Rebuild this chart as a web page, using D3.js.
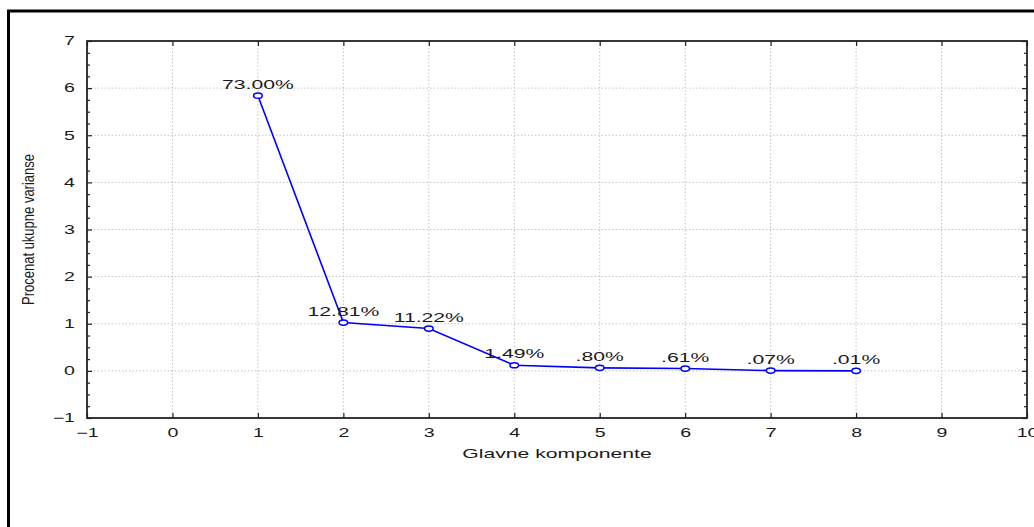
<!DOCTYPE html>
<html>
<head>
<meta charset="utf-8">
<script src="https://cdn.jsdelivr.net/npm/d3@7"></script>
<style>
  html, body { margin: 0; padding: 0; background: #fff; }
  svg { display: block; }
  text { font-family: "Liberation Sans", Arial, sans-serif; fill: #1a1a1a; }
</style>
</head>
<body>
<svg id="chart" width="1034" height="527"></svg>
<script>
// Principal components and their share of total variance (%)
const components = [1, 2, 3, 4, 5, 6, 7, 8];
const varianceShare = [73.00, 12.81, 11.22, 1.49, 0.80, 0.61, 0.07, 0.01];
const variableCount = 8; // eigenvalues of standardized variables sum to this

// Axis ticks
const xTicks = [-1, 0, 1, 2, 3, 4, 5, 6, 7, 8, 9, 10];
const yTicks = [-1, 0, 1, 2, 3, 4, 5, 6, 7];
const yMinorTicks = [-0.75, -0.5, -0.25, 0.25, 0.5, 0.75, 1.25, 1.5, 1.75, 2.25, 2.5, 2.75,
                     3.25, 3.5, 3.75, 4.25, 4.5, 4.75, 5.25, 5.5, 5.75, 6.25, 6.5, 6.75];
const xGrid = [0, 1, 2, 3, 4, 5, 6, 7, 8, 9];
const yGrid = [0, 1, 2, 3, 4, 5, 6];

const xTitle = "Glavne komponente";
const yTitle = "Procenat ukupne varianse";

const points = components.map((c, i) => ({
  comp: c,
  share: varianceShare[i],
  eigen: varianceShare[i] / 100 * variableCount
}));

const fmtShare = v => d3.format(".2f")(v).replace(/^0\./, ".") + "%";

const W = 1034, H = 527;
const plot = { left: 87, right: 1027, top: 41, bottom: 418 };
const SX = 1.63; // horizontal glyph stretch used throughout the graph

const svg = d3.select("#chart");

const x = d3.scaleLinear().domain([-1, 10]).range([plot.left, plot.right]);
const y = d3.scaleLinear().domain([-1, 7]).range([plot.bottom, plot.top]);

// outer window frame
svg.append("path")
  .attr("d", `M8.5,${H} L8.5,11 L${W},11`)
  .attr("fill", "none").attr("stroke", "#000").attr("stroke-width", 3);

// grid
const grid = svg.append("g").attr("stroke", "#c4c4c4").attr("stroke-width", 1)
  .attr("stroke-dasharray", "1.5,2");
grid.selectAll("line.v").data(xGrid).join("line").attr("class", "v")
  .attr("x1", d => x(d)).attr("x2", d => x(d))
  .attr("y1", plot.top).attr("y2", plot.bottom);
grid.selectAll("line.h").data(yGrid).join("line").attr("class", "h")
  .attr("x1", plot.left).attr("x2", plot.right)
  .attr("y1", d => y(d)).attr("y2", d => y(d));

function styleAxis(g, stretchAnchor) {
  g.select(".domain").remove();
  g.selectAll(".tick line").attr("stroke", "#222").attr("stroke-width", 1.2);
  g.selectAll(".tick text")
    .attr("fill", "#1a1a1a")
    .style("font-size", "12px")
    .each(function () {
      const t = d3.select(this);
      const tx = +t.attr("x") || 0;
      const ty = +t.attr("y") || 0;
      t.attr("x", 0).attr("y", 0)
        .attr("transform", `translate(${tx},${ty}) scale(${SX},1)`);
    });
}

// left axis (major + minor, ticks inward)
svg.append("g").attr("transform", `translate(${plot.left},0)`)
  .call(d3.axisLeft(y).tickValues(yTicks).tickSizeInner(-5).tickSizeOuter(0).tickPadding(12))
  .call(styleAxis);
svg.append("g").attr("transform", `translate(${plot.left},0)`)
  .call(d3.axisLeft(y).tickValues(yMinorTicks).tickSizeInner(-3).tickSizeOuter(0).tickFormat(""))
  .call(styleAxis);

// right axis
svg.append("g").attr("transform", `translate(${plot.right},0)`)
  .call(d3.axisRight(y).tickValues(yTicks).tickSizeInner(-5).tickSizeOuter(0).tickFormat(""))
  .call(styleAxis);
svg.append("g").attr("transform", `translate(${plot.right},0)`)
  .call(d3.axisRight(y).tickValues(yMinorTicks).tickSizeInner(-3).tickSizeOuter(0).tickFormat(""))
  .call(styleAxis);

// bottom axis
svg.append("g").attr("transform", `translate(0,${plot.bottom})`)
  .call(d3.axisBottom(x).tickValues(xTicks).tickSizeInner(-5).tickSizeOuter(0).tickPadding(10))
  .call(styleAxis);

// top axis
svg.append("g").attr("transform", `translate(0,${plot.top})`)
  .call(d3.axisTop(x).tickValues(xTicks).tickSizeInner(-5).tickSizeOuter(0).tickFormat(""))
  .call(styleAxis);

// plot frame
svg.append("rect")
  .attr("x", plot.left).attr("y", plot.top)
  .attr("width", plot.right - plot.left).attr("height", plot.bottom - plot.top)
  .attr("fill", "none").attr("stroke", "#222").attr("stroke-width", 1.8);

// axis titles
svg.append("text")
  .attr("transform", `translate(${(plot.left + plot.right) / 2},458) scale(${SX},1)`)
  .attr("text-anchor", "middle")
  .style("font-size", "13px")
  .text(xTitle);

svg.append("text")
  .attr("transform", `translate(34,${(plot.top + plot.bottom) / 2}) rotate(-90) scale(1,1.32)`)
  .attr("text-anchor", "middle")
  .style("font-size", "13px")
  .text(yTitle);

// scree line
const line = d3.line().x(d => x(d.comp)).y(d => y(d.eigen));
svg.append("path").datum(points)
  .attr("d", line)
  .attr("fill", "none").attr("stroke", "#0000ff").attr("stroke-width", 1.6);

// markers
svg.selectAll("ellipse.pt").data(points).join("ellipse").attr("class", "pt")
  .attr("cx", d => x(d.comp)).attr("cy", d => y(d.eigen))
  .attr("rx", 4.3).attr("ry", 2.6)
  .attr("fill", "#fff").attr("stroke", "#0000ff").attr("stroke-width", 1.5);

// value labels
svg.selectAll("text.lbl").data(points).join("text").attr("class", "lbl")
  .attr("transform", d => `translate(${x(d.comp)},${y(d.eigen) - 7}) scale(${SX},1)`)
  .attr("text-anchor", "middle")
  .style("font-size", "13px")
  .text(d => fmtShare(d.share));
</script>
</body>
</html>
